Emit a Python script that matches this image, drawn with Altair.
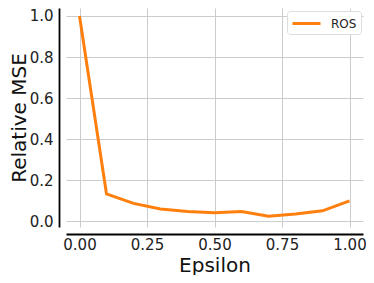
import altair as alt
import pandas as pd

epsilon = [0.0, 0.1, 0.2, 0.3, 0.4, 0.5, 0.6, 0.7, 0.8, 0.9, 1.0]
rel_mse = [1.0, 0.132, 0.086, 0.059, 0.047, 0.041, 0.046, 0.024, 0.034, 0.050, 0.098]
series = ["ROS"] * len(epsilon)
x_ticks = [0.0, 0.25, 0.5, 0.75, 1.0]
y_ticks = [0.0, 0.2, 0.4, 0.6, 0.8, 1.0]

df = pd.DataFrame({"Epsilon": epsilon, "Relative MSE": rel_mse, "Method": series})

FONT = "DejaVu Sans"

chart = alt.Chart(df).mark_line(strokeWidth=3, clip=False).encode(
    x=alt.X("Epsilon:Q",
            scale=alt.Scale(domain=[-0.05, 1.05], nice=False, zero=False),
            axis=alt.Axis(values=x_ticks, format=".2f", title="Epsilon",
                          offset=7, labelPadding=3, titlePadding=3)),
    y=alt.Y("Relative MSE:Q",
            scale=alt.Scale(domain=[-0.029, 1.039], nice=False, zero=False),
            axis=alt.Axis(values=y_ticks, format=".1f", title="Relative MSE",
                          offset=7, labelPadding=6, titlePadding=0)),
    color=alt.Color("Method:N",
                    scale=alt.Scale(domain=["ROS"], range=["#ff7f0e"]),
                    legend=alt.Legend(title=None, orient="none", legendX=221, legendY=3,
                                      symbolType="M-1,0L3,0", symbolStrokeWidth=3,
                                      symbolSize=196, labelFontSize=12, labelFont=FONT,
                                      labelColor="#222222",
                                      padding=4, strokeColor="#dddddd", cornerRadius=3,
                                      fillColor="white", labelOffset=23)),
).properties(
    width=297,
    height=219,
    autosize=alt.AutoSizeParams(type="none"),
    padding={"left": 58, "top": 0, "right": 3, "bottom": 48},
).configure_view(
    stroke=None
).configure_axis(
    grid=True,
    gridColor="#cccccc",
    gridWidth=1,
    ticks=False,
    tickSize=0,
    domainColor="#000000",
    domainWidth=1.8,
    labelFont=FONT,
    labelFontSize=15,
    labelColor="#222222",
    titleFont=FONT,
    titleFontSize=20,
    titleFontWeight="normal",
    titleColor="#111111",
)

chart.save("out.html", embed_options={"renderer": "svg", "actions": False})
